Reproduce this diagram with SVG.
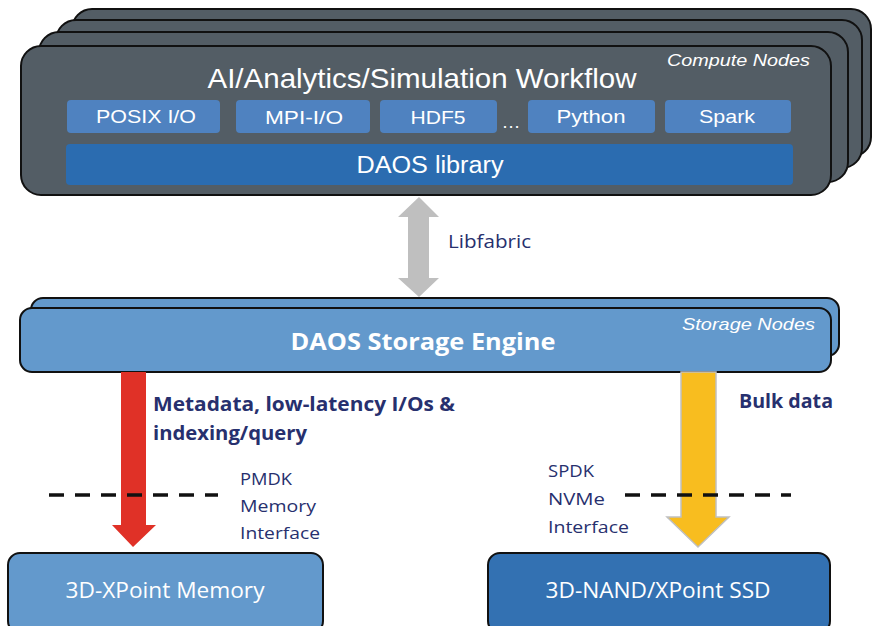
<svg xmlns="http://www.w3.org/2000/svg" width="873" height="626" viewBox="0 0 873 626">
<style>
.card{fill:#535d65;stroke:#111;stroke-width:2}
.sbox{fill:#4f82c0}
.lib{fill:#2b6cb0}
.stor{fill:#6399cc;stroke:#111;stroke-width:2}
.w{fill:#fff;font-family:"Liberation Sans",Arial,sans-serif}
.n{fill:#27306e;font-family:"Open Sans","Noto Sans",sans-serif}
.dash{stroke:#111;stroke-width:3.5;stroke-dasharray:15 11;fill:none}
</style>
<rect width="873" height="626" fill="#fff"/>
<g id="compute-nodes">
<rect class="card" x="72" y="9" width="799" height="148" rx="20"/>
<rect class="card" x="56" y="20" width="806" height="148" rx="20"/>
<rect class="card" x="39" y="32" width="809" height="150" rx="20"/>
<rect class="card" x="21" y="46" width="810" height="149" rx="20"/>
<text class="w" x="422" y="88" font-size="28" text-anchor="middle" textLength="429" lengthAdjust="spacingAndGlyphs">AI/Analytics/Simulation Workflow</text>
<text class="w" x="810" y="66" font-size="17" font-style="italic" text-anchor="end" textLength="143" lengthAdjust="spacingAndGlyphs">Compute Nodes</text>
</g>
<g id="posix"><rect class="sbox" x="67" y="100" width="153" height="33" rx="4"/><text class="w" x="146" y="123" font-size="19" text-anchor="middle" textLength="100" lengthAdjust="spacingAndGlyphs">POSIX I/O</text></g>
<g id="mpi"><rect class="sbox" x="236" y="100" width="134" height="33" rx="4"/><text class="w" x="304" y="124" font-size="19" text-anchor="middle" textLength="78" lengthAdjust="spacingAndGlyphs">MPI-I/O</text></g>
<g id="hdf5"><rect class="sbox" x="380" y="100" width="117" height="33" rx="4"/><text class="w" x="438" y="124" font-size="19" text-anchor="middle" textLength="55" lengthAdjust="spacingAndGlyphs">HDF5</text></g>
<text class="w" x="511" y="128" font-size="19" text-anchor="middle">…</text>
<g id="python"><rect class="sbox" x="528" y="100" width="127" height="33" rx="4"/><text class="w" x="591" y="123" font-size="19" text-anchor="middle" textLength="69" lengthAdjust="spacingAndGlyphs">Python</text></g>
<g id="spark"><rect class="sbox" x="665" y="100" width="126" height="33" rx="4"/><text class="w" x="727" y="123" font-size="19" text-anchor="middle" textLength="56" lengthAdjust="spacingAndGlyphs">Spark</text></g>
<g id="daos-library"><rect class="lib" x="66" y="144" width="727" height="41" rx="4"/><text class="w" x="430" y="173" font-size="23" text-anchor="middle" textLength="147" lengthAdjust="spacingAndGlyphs">DAOS library</text></g>
<g id="storage-nodes">
<rect class="stor" x="31" y="298" width="808" height="58" rx="12"/>
<rect class="stor" x="20" y="308" width="811" height="64" rx="12"/>
<text class="w" x="423" y="350" font-size="24" font-weight="bold" text-anchor="middle" textLength="265" lengthAdjust="spacingAndGlyphs" style="font-family:'Open Sans',sans-serif">DAOS Storage Engine</text>
<text class="w" x="815" y="330" font-size="17" font-style="italic" text-anchor="end" textLength="133" lengthAdjust="spacingAndGlyphs">Storage Nodes</text>
</g>
<g id="xpoint-memory"><rect class="stor" x="8" y="553" width="315" height="80" rx="12"/><text class="w" x="165" y="598" font-size="21" text-anchor="middle" textLength="199" lengthAdjust="spacingAndGlyphs" style="font-family:'Open Sans',sans-serif">3D-XPoint Memory</text></g>
<g id="nand-ssd"><rect x="488" y="553" width="342" height="80" rx="12" fill="#3371b2" stroke="#111" stroke-width="2"/><text class="w" x="658" y="598" font-size="21" text-anchor="middle" textLength="225" lengthAdjust="spacingAndGlyphs" style="font-family:'Open Sans',sans-serif">3D-NAND/XPoint SSD</text></g>
<g id="connectors">
<polygon points="419,197 439,217 429,217 429,278 439,278 419,297 398,278 408,278 408,217 398,217" fill="#bfbfbf"/>
<polygon points="121,372 146,372 146,525 156,525 133,547 112,525 121,525" fill="#e03127"/>
<polygon points="681,372 716,372 716,517 729,517 698,547 667,517 681,517" fill="#f8bd1f" stroke="#c0c0c0" stroke-width="1.5"/>
<line class="dash" x1="49" y1="495" x2="218" y2="495"/>
<line class="dash" x1="621" y1="495" x2="791" y2="495" stroke-dashoffset="-4"/>
</g>
<text class="n" x="448" y="248" font-size="18" textLength="83" lengthAdjust="spacingAndGlyphs">Libfabric</text>
<text class="n" x="153" y="411" font-size="19" font-weight="bold" textLength="302" lengthAdjust="spacingAndGlyphs">Metadata, low-latency I/Os &amp;</text>
<text class="n" x="153" y="440" font-size="19" font-weight="bold" textLength="154" lengthAdjust="spacingAndGlyphs">indexing/query</text>
<text class="n" x="739" y="408" font-size="19" font-weight="bold" textLength="94" lengthAdjust="spacingAndGlyphs">Bulk data</text>
<text class="n" x="240" y="485" font-size="17" textLength="52" lengthAdjust="spacingAndGlyphs">PMDK</text>
<text class="n" x="240" y="512" font-size="17" textLength="76" lengthAdjust="spacingAndGlyphs">Memory</text>
<text class="n" x="240" y="539" font-size="17" textLength="80" lengthAdjust="spacingAndGlyphs">Interface</text>
<text class="n" x="548" y="477" font-size="17" textLength="46" lengthAdjust="spacingAndGlyphs">SPDK</text>
<text class="n" x="548" y="505" font-size="17" textLength="57" lengthAdjust="spacingAndGlyphs">NVMe</text>
<text class="n" x="548" y="533" font-size="17" textLength="81" lengthAdjust="spacingAndGlyphs">Interface</text>
</svg>
